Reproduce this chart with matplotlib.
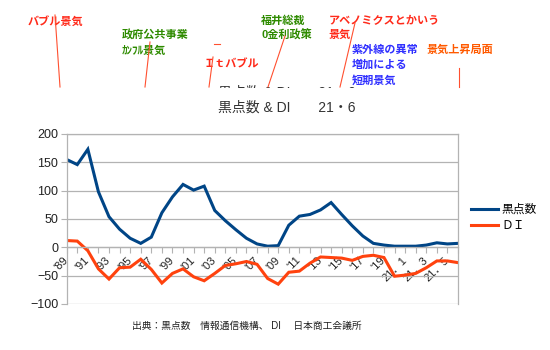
import numpy as np
import matplotlib
matplotlib.use('Agg')
import matplotlib.pyplot as plt
from matplotlib.lines import Line2D
from matplotlib.patches import Rectangle

plt.rcParams['font.family'] = ['Liberation Sans', 'Noto Sans CJK JP']

# categories: yearly 1989-2020, then monthly 2021
cats = ["'89", "'90", "'91", "'92", "'93", "'94", "'95", "'96", "'97", "'98",
        "'99", "'00", "'01", "'02", "'03", "'04", "'05", "'06", "'07", "'08",
        "'09", "'10", "'11", "'12", "'13", "'14", "'15", "'16", "'17", "'18",
        "'19", "'20", "21．1", "21．2", "21．3", "21．4", "21．5", "21．6"]

sunspots = [155, 146, 173, 98, 54, 32, 16, 7, 18, 61, 89, 111, 101, 108, 65,
            47, 31, 16, 6, 2, 3, 39, 55, 58, 66, 79, 58, 38, 20, 7, 4, 2, 2, 2,
            4, 8, 6, 7]
di = [12, 11, -6, -38, -56, -36, -35, -21, -39, -63, -46, -38, -52, -59, -46,
      -32, -29, -25, -30, -55, -65, -44, -42, -28, -17, -18, -19, -23, -16,
      -14, -18, -51, -49, -46, -36, -24, -24, -27]

W, H = 550, 350
fig = plt.figure(figsize=(5.5, 3.5), dpi=100)
ax = fig.add_axes([66.7 / W, 1 - 304 / H, (458 - 66.7) / W, 170 / H])

x = np.arange(len(cats))
ax.plot(x, sunspots, color='#004586', lw=2.2, label='黒点数', solid_joinstyle='miter')
ax.plot(x, di, color='#ff420e', lw=2.2, label='ＤＩ', solid_joinstyle='miter')

grey = '#b3b3b3'
ax.set_xlim(0, len(cats) - 1)
ax.set_ylim(-100, 200)
ax.set_yticks(np.arange(-100, 201, 50))
ax.yaxis.grid(True, color=grey, lw=0.9)
ax.set_axisbelow(True)
for s in ax.spines.values():
    s.set_color(grey)
    s.set_linewidth(0.9)
ax.spines['bottom'].set_position(('data', 0))

ax.set_xticks(x)
ax.set_xticklabels([c if i % 2 == 0 else '' for i, c in enumerate(cats)],
                   rotation=45, ha='right', va='center', rotation_mode='anchor')
ax.tick_params(axis='x', direction='out', length=4, color=grey, labelsize=8,
               pad=4, labelcolor='#222222')
ax.tick_params(axis='y', direction='out', length=4, color=grey, labelsize=9,
               pad=2, labelcolor='#222222')

fig.legend(loc='center left', bbox_to_anchor=(471 / W, 1 - 218 / H),
           frameon=False, fontsize=8.5, handlelength=2.3, labelspacing=0.35,
           handletextpad=0.3, borderpad=0, borderaxespad=0)

def fx(px):
    return px / W

def fy(py):
    return 1 - py / H

fig.text(fx(287), fy(108), '黒点数 & DI　　21・6', ha='center', va='center',
         fontsize=10, color='#333333')
fig.text(fx(247), fy(326), '出典：黒点数　情報通信機構、 DI　 日本商工会議所',
         ha='center', va='center', fontsize=7, color='#222222')

# cut-off copy of the title behind the annotations
fig.text(fx(287), fy(93), '黒点数 & DI　　21・6', ha='center', va='center',
         fontsize=10, color='#333333', zorder=2)
fig.patches.append(Rectangle((0, fy(100)), 1, 12 / H, transform=fig.transFigure,
                             facecolor='white', edgecolor='none', zorder=4))

red = '#ff2a1a'
green = '#2e8b00'
blue = '#3030ff'
orange = '#ff5a00'
notes = [
    (28, 21, 'バブル景気', red),
    (122, 34, '政府公共事業', green),
    (122, 51, 'ｶﾝﾌﾙ景気', green),
    (203, 64, 'Ｉｔバブル', red),
    (261, 21, '福井総裁', green),
    (261, 35, '0金利政策', green),
    (329, 21, 'アベノミクスとかいう', red),
    (329, 35, '景気', red),
    (352, 50, '紫外線の異常', blue),
    (352, 65, '増加による', blue),
    (352, 80, '短期景気', blue),
    (427, 50, '景気上昇局面', orange),
]
for px, py, t, c in notes:
    fig.text(fx(px), fy(py), t, ha='left', va='center', fontsize=8,
             color=c, fontweight='bold', zorder=5)

pointers = [((55, 15), (60, 87)), ((150, 42), (145, 87)), ((213, 57), (209, 87)),
            ((285, 36), (268, 87)), ((355, 23), (340, 87)), ((459, 68), (459, 87)),
            ((214, 44), (220, 44))]
for (x0, y0), (x1, y1) in pointers:
    fig.add_artist(Line2D([fx(x0), fx(x1)], [fy(y0), fy(y1)], color='#ff5030',
                          lw=0.8, transform=fig.transFigure, zorder=6))

fig.savefig('out.png', dpi=100)
